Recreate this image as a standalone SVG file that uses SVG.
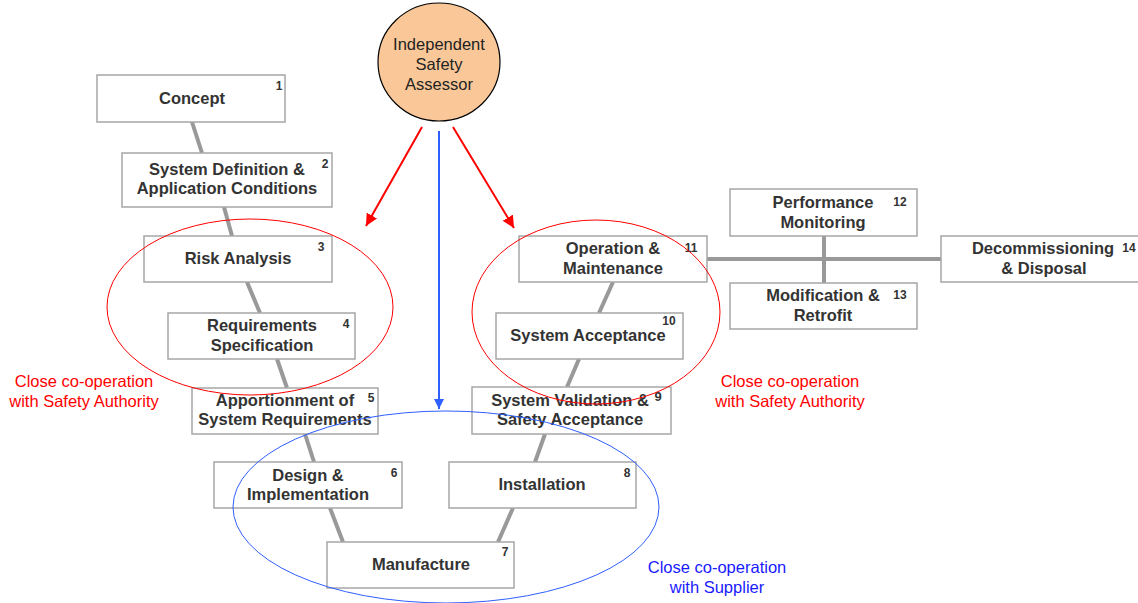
<svg xmlns="http://www.w3.org/2000/svg" width="1138" height="603" viewBox="0 0 1138 603">
<style>
.box{fill:#fff;stroke:#a6a6a6;stroke-width:1.5}
.t{font-family:"Liberation Sans",Arial,sans-serif;font-weight:bold;font-size:16.5px;fill:#333;text-anchor:middle}
.n{font-family:"Liberation Sans",Arial,sans-serif;font-weight:bold;font-size:12px;fill:#333;text-anchor:middle}
.c{stroke:#999;stroke-width:4;fill:none}
.lbl{font-family:"Liberation Sans",Arial,sans-serif;font-size:16.5px;text-anchor:middle}
</style>
<defs>
<marker id="ar" viewBox="0 0 10 10" refX="10" refY="5" markerWidth="6" markerHeight="6" orient="auto" markerUnits="strokeWidth"><path d="M0,0 L10,5 L0,10 z" fill="#f00"/></marker>
<marker id="ab" viewBox="0 0 10 10" refX="10" refY="5" markerWidth="6" markerHeight="5" orient="auto" markerUnits="strokeWidth"><path d="M0,0 L10,5 L0,10 z" fill="#2f5fff"/></marker>
</defs>
<rect width="1138" height="603" fill="#fff"/>
<g id="connectors">
<line class="c" x1="192" y1="122" x2="202" y2="153"/>
<line class="c" x1="224" y1="207" x2="232" y2="236"/>
<line class="c" x1="247" y1="282" x2="260" y2="313"/>
<line class="c" x1="277" y1="359" x2="287" y2="388"/>
<line class="c" x1="305" y1="434" x2="314" y2="462"/>
<line class="c" x1="330" y1="508" x2="343" y2="542"/>
<line class="c" x1="498" y1="542" x2="513" y2="508"/>
<line class="c" x1="535" y1="462" x2="545" y2="434"/>
<line class="c" x1="567" y1="387" x2="579" y2="359"/>
<line class="c" x1="599" y1="313" x2="613" y2="282"/>
<line class="c" x1="707" y1="259" x2="941" y2="259"/>
<line class="c" x1="824" y1="236" x2="824" y2="283"/>
<line x1="422" y1="127" x2="366" y2="226" stroke="#f00" stroke-width="2" marker-end="url(#ar)"/>
<line x1="453" y1="127" x2="514" y2="228" stroke="#f00" stroke-width="2" marker-end="url(#ar)"/>
<line x1="439" y1="131" x2="439" y2="409" stroke="#2f5fff" stroke-width="2" marker-end="url(#ab)"/>
</g>
<g id="n1"><rect class="box" x="97" y="75" width="188" height="47"/><text class="t" x="192" y="104">Concept</text><text class="n" x="279" y="90">1</text></g>
<g id="n2"><rect class="box" x="122" y="153" width="210" height="54"/><text class="t" x="227" y="175">System Definition &amp;</text><text class="t" x="227" y="194">Application Conditions</text><text class="n" x="325" y="168">2</text></g>
<g id="n3"><rect class="box" x="144" y="236" width="188" height="46"/><text class="t" x="238" y="264">Risk Analysis</text><text class="n" x="321" y="251">3</text></g>
<g id="n4"><rect class="box" x="168" y="313" width="187" height="46"/><text class="t" x="262" y="331">Requirements</text><text class="t" x="262" y="351">Specification</text><text class="n" x="346" y="328">4</text></g>
<g id="n5"><rect class="box" x="192" y="388" width="186" height="46"/><text class="t" x="285" y="406">Apportionment of</text><text class="t" x="285" y="425">System Requirements</text><text class="n" x="371" y="402">5</text></g>
<g id="n6"><rect class="box" x="214" y="462" width="188" height="46"/><text class="t" x="308" y="481">Design &amp;</text><text class="t" x="308" y="500">Implementation</text><text class="n" x="394" y="477">6</text></g>
<g id="n7"><rect class="box" x="327" y="542" width="187" height="46"/><text class="t" x="421" y="570">Manufacture</text><text class="n" x="505" y="556">7</text></g>
<g id="n8"><rect class="box" x="449" y="462" width="187" height="46"/><text class="t" x="542" y="490">Installation</text><text class="n" x="627" y="477">8</text></g>
<g id="n9"><rect class="box" x="472" y="387" width="199" height="47"/><text class="t" x="570" y="406">System Validation &amp;</text><text class="t" x="570" y="425">Safety Acceptance</text><text class="n" x="658" y="401" style="font-size:13px">9</text></g>
<g id="n10"><rect class="box" x="496" y="313" width="187" height="46"/><text class="t" x="588" y="341">System Acceptance</text><text class="n" x="669" y="325">10</text></g>
<g id="n11"><rect class="box" x="519" y="236" width="188" height="46"/><text class="t" x="613" y="254">Operation &amp;</text><text class="t" x="613" y="274">Maintenance</text><text class="n" x="691" y="252">11</text></g>
<g id="n12"><rect class="box" x="730" y="189" width="187" height="47"/><text class="t" x="823" y="208">Performance</text><text class="t" x="823" y="228">Monitoring</text><text class="n" x="900" y="206">12</text></g>
<g id="n13"><rect class="box" x="730" y="283" width="187" height="46"/><text class="t" x="823" y="301">Modification &amp;</text><text class="t" x="823" y="321">Retrofit</text><text class="n" x="900" y="299">13</text></g>
<g id="n14"><rect class="box" x="941" y="236" width="200" height="46"/><text class="t" x="1043" y="254">Decommissioning</text><text class="t" x="1044" y="274">&amp; Disposal</text><text class="n" x="1129" y="252">14</text></g>
<g id="isa"><ellipse cx="439" cy="62" rx="61" ry="59" fill="#fac898" stroke="#000" stroke-width="1.2"/><text class="lbl" x="439" y="50" fill="#222">Independent</text><text class="lbl" x="439" y="70" fill="#222">Safety</text><text class="lbl" x="439" y="90" fill="#222">Assessor</text></g>
<g id="groups">
<ellipse cx="250" cy="307" rx="143" ry="88" fill="none" stroke="#f00" stroke-width="1"/>
<ellipse cx="596" cy="312" rx="124" ry="92" fill="none" stroke="#f00" stroke-width="1"/>
<ellipse cx="446" cy="507" rx="213" ry="96" fill="none" stroke="#2f5fff" stroke-width="1"/>
<text class="lbl" x="84" y="387" fill="#f00">Close co-operation</text>
<text class="lbl" x="84" y="407" fill="#f00">with Safety Authority</text>
<text class="lbl" x="790" y="387" fill="#f00">Close co-operation</text>
<text class="lbl" x="790" y="407" fill="#f00">with Safety Authority</text>
<text class="lbl" x="717" y="573" fill="#1a1aff">Close co-operation</text>
<text class="lbl" x="717" y="593" fill="#1a1aff">with Supplier</text>
</g>
</svg>
